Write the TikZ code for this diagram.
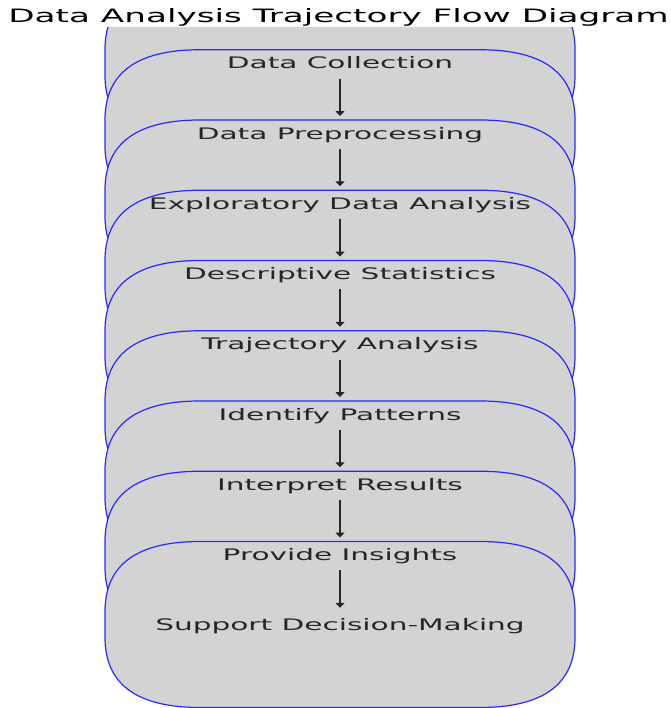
\documentclass[tikz,border=0pt]{standalone}
\usepackage{fontspec}
\setmainfont{DejaVu Sans}[FakeStretch=1.86]
\usetikzlibrary{arrows.meta,backgrounds}
\definecolor{boxgray}{RGB}{211,211,211}
\definecolor{boxblue}{RGB}{40,40,255}

\begin{document}
\begin{tikzpicture}[x=1pt,y=1pt,node distance=70.25pt,
  main node/.style={inner sep=0pt,text height=12pt,text depth=3.5pt,text=black!85,font=\fontsize{15.9}{18}\selectfont},
  flow box/.style={draw=boxblue,fill=boxgray,line width=1.2pt},
  flow arrow/.style={-{Triangle[length=5pt,width=9pt]},line width=1.6pt,black!85,shorten <=6pt,shorten >=11pt}]
\useasboundingbox (0,0) rectangle (670,708);
%title
  \node[anchor=base,font=\fontsize{18.4}{20}\selectfont] (title) at (338.5,685.3) {Data Analysis Trajectory Flow Diagram};
%steps
  \node[main node] (1) at (340,643.25) {Data Collection};
  \node[main node] (2) [below of=1] {Data Preprocessing};
  \node[main node] (3) [below of=2] {Exploratory Data Analysis};
  \node[main node] (4) [below of=3] {Descriptive Statistics};
  \node[main node] (5) [below of=4] {Trajectory Analysis};
  \node[main node] (6) [below of=5] {Identify Patterns};
  \node[main node] (7) [below of=6] {Interpret Results};
  \node[main node] (8) [below of=7] {Provide Insights};
  \node[main node] (9) [below of=8] {Support Decision-Making};
%boxes
  \begin{pgfonlayer}{background}
    \clip (0,0) rectangle (670,680);
    \foreach \n in {1,...,9}
      \path[flow box,shift={(\n.base)}] (-140,-76.5) -- (140,-76.5)
        .. controls (203.33,-76.5) and (235,-53.17) .. (235,-6.5) -- (235,19.5)
        .. controls (235,66.17) and (203.33,89.5) .. (140,89.5) -- (-140,89.5)
        .. controls (-203.33,89.5) and (-235,66.17) .. (-235,19.5) -- (-235,-6.5)
        .. controls (-235,-53.17) and (-203.33,-76.5) .. (-140,-76.5) -- cycle;
  \end{pgfonlayer}
%paths
  \foreach \a/\b in {1/2,2/3,3/4,4/5,5/6,6/7,7/8,8/9}
    \draw[flow arrow] (\a) -- (\b);
\end{tikzpicture}
\end{document}
